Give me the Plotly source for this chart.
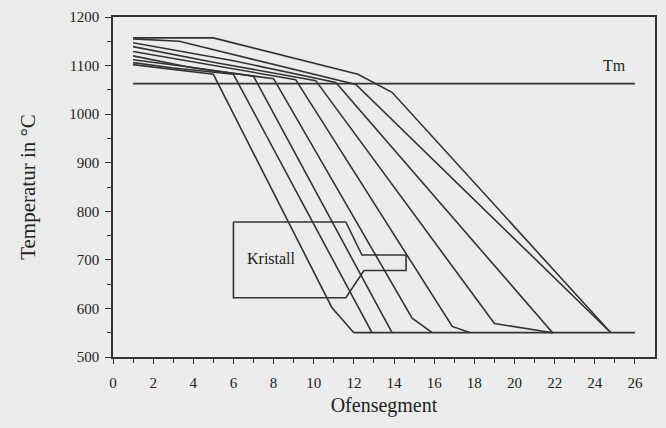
import plotly.graph_objects as go

# Temperature profiles along the furnace (segment, temperature)
profiles_x = [
    [1, 3, 5.0, 10.9, 12.0],
    [1, 3, 6.0, 12.9],
    [1, 4, 7.0, 13.9],
    [1, 4, 8.0, 14.9, 15.9],
    [1, 5, 9.1, 16.9, 17.8],
    [1, 5, 10.1, 19.0, 21.9],
    [1, 6, 11.1, 21.9],
    [1, 3.3, 12.1, 24.8],
    [1, 5.0, 12.2, 13.9, 24.8],
]
profiles_t = [
    [1102, 1092, 1082, 602, 550],
    [1106, 1095, 1082, 550],
    [1112, 1096, 1078, 550],
    [1120, 1095, 1073, 580, 550],
    [1129, 1100, 1071, 563, 550],
    [1139, 1107, 1069, 569, 550],
    [1147, 1110, 1065, 550],
    [1155, 1150, 1061, 550],
    [1157, 1157, 1082, 1045, 550],
]

tm_x = [1, 26]
tm_t = [1063, 1063]
floor_x = [12, 26]
floor_t = [550, 550]

crystal_x = [6, 11.6, 12.4, 14.6, 14.6, 12.5, 11.6, 6, 6]
crystal_t = [778, 778, 710, 710, 678, 678, 622, 622, 778]

line_col = "#333333"
fig = go.Figure()
for xs, ts in zip(profiles_x, profiles_t):
    fig.add_trace(go.Scatter(x=xs, y=ts, mode="lines",
                             line=dict(color=line_col, width=1.6), hoverinfo="skip"))
fig.add_trace(go.Scatter(x=tm_x, y=tm_t, mode="lines", line=dict(color=line_col, width=1.7)))
fig.add_trace(go.Scatter(x=floor_x, y=floor_t, mode="lines", line=dict(color=line_col, width=1.7)))
fig.add_trace(go.Scatter(x=crystal_x, y=crystal_t, mode="lines", line=dict(color=line_col, width=1.6)))

font = "Liberation Serif, Times New Roman, serif"
fig.add_annotation(x=25, y=1100, text="Tm", showarrow=False,
                   font=dict(family=font, size=16, color="#222"))
fig.add_annotation(x=7.9, y=702, text="Kristall", showarrow=False,
                   font=dict(family=font, size=16, color="#222"))

fig.update_layout(
    width=666, height=428,
    margin=dict(l=113, r=9, t=14, b=71),
    paper_bgcolor="#ececec", plot_bgcolor="#ececec",
    showlegend=False,
    font=dict(family=font, size=15, color="#222"),
)
fig.update_xaxes(
    range=[0, 27], tickvals=list(range(0, 27, 2)), ticks="outside", ticklen=5,
    tickcolor=line_col, showline=True, linecolor=line_col, linewidth=1.7, mirror=True,
    showgrid=False, zeroline=False, ticklabelstandoff=6,
    minor=dict(tickvals=list(range(1, 27, 2)), ticks="outside", ticklen=4, tickcolor=line_col),
    title=dict(text="Ofensegment", font=dict(size=20), standoff=8),
)
fig.update_yaxes(
    range=[500, 1200], dtick=100, ticks="outside", ticklen=6,
    tickcolor=line_col, showline=True, linecolor=line_col, linewidth=1.7, mirror=True,
    showgrid=False, zeroline=False, ticklabelstandoff=3,
    minor=dict(dtick=50, ticks="outside", ticklen=4, tickcolor=line_col),
    title=dict(text="Temperatur in °C", font=dict(size=21), standoff=28),
)

fig.write_html("out.html")
